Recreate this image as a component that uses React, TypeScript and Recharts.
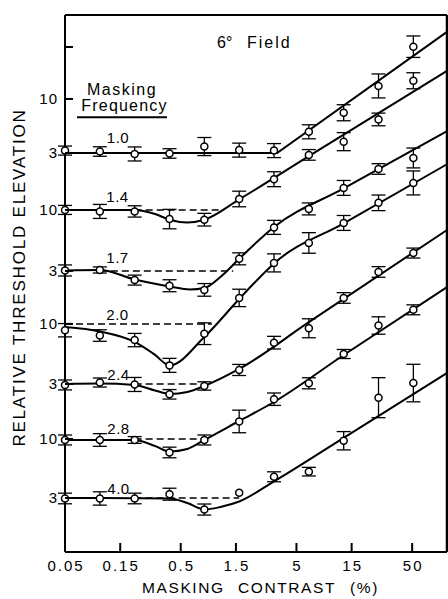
import React from 'react';
import { ComposedChart, Line, Scatter, ErrorBar, XAxis, YAxis } from 'recharts';

const FONT = "'Liberation Sans', Arial, Helvetica, sans-serif";

// Masking contrast (%) of every measured point (factor-of-2 steps)
const X_PTS = [0.05, 0.1, 0.2, 0.4, 0.8, 1.6, 3.2, 6.4, 12.8, 25.6, 51.2];

// Masking frequencies (curve labels), top to bottom
const FREQ_LABELS = ['1.0', '1.4', '1.7', '2.0', '2.4', '2.8', '4.0'];

// Vertical offset (log10 units) of each curve's unit level on the stacked axis
const BASES = [3.053, 2.549, 2.009, 1.54, 1.009, 0.522, 0];

// Relative threshold elevation of the measured points
const E10 = [1.05, 1.03, 0.98, 0.99, 1.14, 1.06, 1.05, 1.54, 2.27, 3.92, 8.72];
const E14 = [1.0, 0.97, 0.97, 0.83, 0.82, 1.25, 1.87, 3.07, 4.02, 6.32, 13.9];
const E17 = [1.01, 1.02, 0.83, 0.74, 0.68, 1.28, 2.43, 3.54, 5.43, 7.99, 10.0];
const E20 = [0.88, 0.79, 0.72, 0.43, 0.82, 1.7, 3.47, 5.21, 7.83, 11.8, 17.7];
const E24 = [0.98, 1.03, 0.99, 0.81, 0.96, 1.33, 2.32, 3.11, 5.77, 9.8, 14.4];
const E28 = [0.98, 0.98, 0.98, 0.76, 0.98, 1.43, 2.25, 3.11, 5.65, 10.1, 13.9];
const E40 = [0.99, 0.99, 0.99, 1.08, 0.79, 1.11, 1.54, 1.71, 3.21, 7.72, 10.4];

// Error bar half-widths (log10 units)
const ERR10 = [0.04, 0.042, 0.062, 0.042, 0.08, 0.062, 0.062, 0.062, 0.071, 0.106, 0.095];
const ERR14 = [0.04, 0.062, 0.05, 0.086, 0.056, 0.069, 0.066, 0.047, 0.08, 0.056, 0.071];
const ERR17 = [0.049, 0.027, 0.044, 0.053, 0.056, 0.053, 0.062, 0.053, 0.066, 0.047, 0.088];
const ERR20 = [0.059, 0.051, 0.059, 0.062, 0.096, 0.077, 0.08, 0.091, 0.066, 0.069, 0.106];
const ERR24 = [0.044, 0.04, 0.062, 0.042, 0.037, 0.049, 0.056, 0.084, 0.047, 0.047, 0.044];
const ERR28 = [0.044, 0.056, 0.03, 0.047, 0.044, 0.1, 0.055, 0.049, 0.04, 0.077, 0.044];
const ERR40 = [0.047, 0.059, 0.047, 0.053, 0.049, 0, 0.044, 0.038, 0.081, 0.177, 0.166];

// Fitted curves: contrast nodes and elevation at the nodes
const FIT10_X = [0.05, 3.4, 100];
const FIT10_V = [1.0, 1.0, 11.8];
const FIT14_X = [0.05, 0.2, 0.3, 0.4, 0.57, 0.8, 1.6, 6.4, 100];
const FIT14_V = [1.0, 1.0, 0.92, 0.82, 0.775, 0.82, 1.24, 2.99, 17.0];
const FIT17_X = [0.05, 0.1, 0.2, 0.4, 0.6, 0.8, 1.1, 1.6, 3.2, 12.8, 100];
const FIT17_V = [1.01, 1.02, 0.84, 0.73, 0.686, 0.707, 0.885, 1.28, 2.45, 5.38, 17.3];
const FIT20_X = [0.05, 0.1, 0.2, 0.3, 0.4, 0.8, 1.6, 2.2, 3.2, 12.8, 100];
const FIT20_V = [0.94, 0.858, 0.693, 0.532, 0.429, 0.767, 1.664, 2.35, 3.43, 7.78, 25.9];
const FIT24_X = [0.05, 0.1, 0.2, 0.3, 0.4, 0.57, 0.8, 1.6, 6.4, 100];
const FIT24_V = [1.0, 1.01, 0.98, 0.876, 0.816, 0.85, 0.96, 1.357, 3.52, 23.05];
const FIT28_X = [0.05, 0.2, 0.3, 0.4, 0.57, 0.8, 1.6, 3.2, 12.8, 100];
const FIT28_V = [0.98, 0.98, 0.867, 0.775, 0.816, 0.98, 1.443, 2.125, 5.54, 22.1];
const FIT40_X = [0.05, 0.4, 0.57, 0.8, 1.1, 1.6, 3.2, 12.8, 100];
const FIT40_V = [1.0, 0.99, 0.903, 0.791, 0.832, 0.931, 1.4, 3.4, 12.77];

// Dashed reference (elevation = 1) contrast ranges
const DASH_RANGES: (number[] | null)[] = [null, [0.2, 1.15], [0.1, 1.42], [0.05, 0.93], [0.2, 0.8], [0.2, 0.8], [0.2, 1.6]];

// Axes
const X_TICKS = [0.05, 0.15, 0.5, 1.5, 5, 15, 50];
const X_INNER_TICKS = [0.15, 0.5, 1.5, 5, 15, 50];
const Y_TICKS = [3.991, 3.531, 3.053, 2.549, 2.009, 1.54, 1.009, 0.522, 0];
const Y_TICK_LABELS = ['', '10', '3', '10', '3', '10', '3', '10', '3'];
const X_DOMAIN = [0.05, 100];
const Y_DOMAIN = [-0.478, 4.274];

const ELEV = [E10, E14, E17, E20, E24, E28, E40];
const ERRS = [ERR10, ERR14, ERR17, ERR20, ERR24, ERR28, ERR40];
const FIT_X = [FIT10_X, FIT14_X, FIT17_X, FIT20_X, FIT24_X, FIT28_X, FIT40_X];
const FIT_V = [FIT10_V, FIT14_V, FIT17_V, FIT20_V, FIT24_V, FIT28_V, FIT40_V];

const CURVES = FREQ_LABELS.map((label, k) => ({
  label,
  pts: ELEV[k].map((v, i) => ({ x: X_PTS[i], y: BASES[k] + Math.log10(v), e: ERRS[k][i] })),
  fit: FIT_X[k].map((x, i) => ({ x, y: BASES[k] + Math.log10(FIT_V[k][i]) })),
  dash: DASH_RANGES[k] ? (DASH_RANGES[k] as number[]).map((x) => ({ x, y: BASES[k] })) : null,
  type: k === 0 ? 'linear' : 'monotone',
}));

const BottomTick = (p: any) => {
  const { x, y, payload } = p;
  return (
    <g>
      {payload.value !== 0.05 && <line x1={x} y1={y} x2={x} y2={y - 9} stroke="#000" strokeWidth={2} />}
      <text x={x + 1} y={y + 19} textAnchor="middle" fontSize={15} fontFamily={FONT} letterSpacing={2} fill="#000">
        {String(payload.value)}
      </text>
    </g>
  );
};

const TopTick = (p: any) => {
  const { x, y } = p;
  return <line x1={x} y1={y} x2={x} y2={y + 10} stroke="#000" strokeWidth={2} />;
};

const LeftTick = (p: any) => {
  const { x, y, payload } = p;
  let idx = 0;
  let best = 1e9;
  Y_TICKS.forEach((t, i) => {
    const d = Math.abs(t - payload.value);
    if (d < best) {
      best = d;
      idx = i;
    }
  });
  return (
    <g>
      <line x1={x} y1={y} x2={x + 8} y2={y} stroke="#000" strokeWidth={2} />
      <text x={x - 7} y={y + 5.3} textAnchor="end" fontSize={15} fontFamily={FONT} letterSpacing={1} fill="#000">
        {Y_TICK_LABELS[idx]}
      </text>
    </g>
  );
};

const RightTick = (p: any) => {
  const { x, y } = p;
  return <line x1={x} y1={y} x2={x - 8} y2={y} stroke="#000" strokeWidth={2} />;
};

const OpenCircle = (p: any) => (
  <circle cx={p.cx} cy={p.cy} r={3.5} fill="#fff" stroke="#000" strokeWidth={1.5} />
);

const LABEL_POS = [
  [118, 143],
  [117.5, 202],
  [117.5, 263],
  [117.5, 320],
  [118.5, 380],
  [118.5, 434],
  [118.5, 494],
];

export default function App() {
  return (
    <div style={{ position: 'relative', width: 448, height: 599 }}>
      <style>{'body{margin:0}'}</style>
      <ComposedChart width={448} height={599} margin={{ top: 0, right: 0, bottom: 0, left: 0 }}>
        <XAxis
          xAxisId="x"
          dataKey="x"
          type="number"
          scale="log"
          domain={X_DOMAIN}
          ticks={X_TICKS}
          interval={0}
          height={47}
          tickSize={0}
          tickMargin={0}
          tickLine={false}
          tick={BottomTick}
          axisLine={{ stroke: '#000', strokeWidth: 2 }}
        />
        <XAxis
          xAxisId="xt"
          orientation="top"
          dataKey="x"
          type="number"
          scale="log"
          domain={X_DOMAIN}
          ticks={X_INNER_TICKS}
          interval={0}
          height={15}
          tickSize={0}
          tickMargin={0}
          tickLine={false}
          tick={TopTick}
          axisLine={{ stroke: '#000', strokeWidth: 2 }}
        />
        <YAxis
          yAxisId="y"
          type="number"
          domain={Y_DOMAIN}
          ticks={Y_TICKS}
          interval={0}
          width={65}
          tickSize={0}
          tickMargin={0}
          tickLine={false}
          tick={LeftTick}
          axisLine={{ stroke: '#000', strokeWidth: 2 }}
        />
        <YAxis
          yAxisId="yr"
          orientation="right"
          type="number"
          domain={Y_DOMAIN}
          ticks={Y_TICKS}
          interval={0}
          width={1}
          tickSize={0}
          tickMargin={0}
          tickLine={false}
          tick={RightTick}
          axisLine={{ stroke: '#000', strokeWidth: 2.5 }}
        />
        {CURVES.map((c, k) =>
          c.dash ? (
            <Line
              key={'d' + k}
              xAxisId="x"
              yAxisId="y"
              data={c.dash}
              dataKey="y"
              type="linear"
              stroke="#000"
              strokeWidth={1.5}
              strokeDasharray="7 4"
              dot={false}
              activeDot={false}
              isAnimationActive={false}
            />
          ) : null
        )}
        {CURVES.map((c, k) => (
          <Line
            key={'f' + k}
            xAxisId="x"
            yAxisId="y"
            data={c.fit}
            dataKey="y"
            type={c.type as any}
            stroke="#000"
            strokeWidth={2}
            dot={false}
            activeDot={false}
            isAnimationActive={false}
          />
        ))}
        {CURVES.map((c, k) => (
          <Scatter
            key={'s' + k}
            xAxisId="x"
            yAxisId="y"
            data={c.pts}
            dataKey="y"
            shape={OpenCircle}
            isAnimationActive={false}
          >
            <ErrorBar dataKey="e" direction="y" width={7} stroke="#000" strokeWidth={1.3} isAnimationActive={false} />
          </Scatter>
        ))}
      </ComposedChart>
      <svg
        width={448}
        height={599}
        style={{ position: 'absolute', left: 0, top: 0, pointerEvents: 'none' }}
        fontFamily={FONT}
        fill="#000"
      >
        <text x={217} y={48.3} fontSize={16}>6°</text>
        <text x={247} y={48.3} fontSize={16} letterSpacing={2}>Field</text>
        <text x={122} y={95} textAnchor="middle" fontSize={16} letterSpacing={1.5}>Masking</text>
        <text x={124.5} y={110.5} textAnchor="middle" fontSize={16} letterSpacing={1.2}>Frequency</text>
        <line x1={77} y1={117.3} x2={167} y2={117.3} stroke="#000" strokeWidth={2} />
        {CURVES.map((c, k) => (
          <text key={'l' + k} x={LABEL_POS[k][0]} y={LABEL_POS[k][1]} textAnchor="middle" fontSize={15} letterSpacing={0.5}>
            {c.label}
          </text>
        ))}
        <text x={142} y={593.3} fontSize={15.5} letterSpacing={1.6}>MASKING</text>
        <text x={238} y={593.3} fontSize={15.5} letterSpacing={1.6}>CONTRAST</text>
        <text x={350} y={593.3} fontSize={15.5} letterSpacing={1.6}>(%)</text>
        <text transform="translate(24.5,277.5) rotate(-90)" textAnchor="middle" fontSize={17} letterSpacing={1.8}>
          RELATIVE THRESHOLD ELEVATION
        </text>
      </svg>
    </div>
  );
}
